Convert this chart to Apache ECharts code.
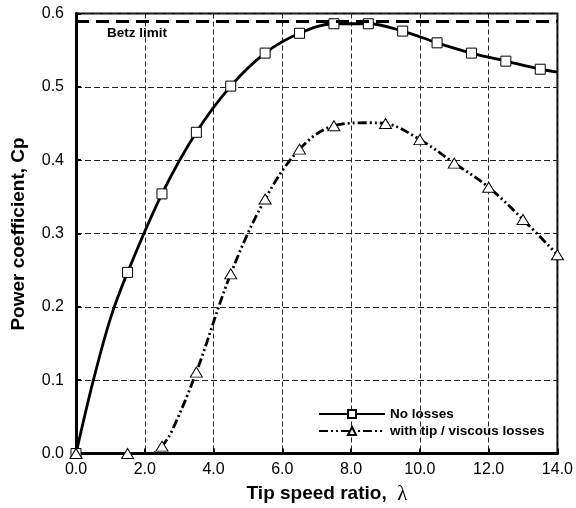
<!DOCTYPE html>
<html>
<head>
<meta charset="utf-8">
<script src="https://cdn.jsdelivr.net/npm/echarts@6/dist/echarts.min.js"></script>
<style>html,body{margin:0;padding:0;background:#fff;}#c{width:576px;height:508px;}</style>
</head>
<body>
<div id="c"></div>
<script>
// Tick labels
var xTicks = ['0.0','2.0','4.0','6.0','8.0','10.0','12.0','14.0'];
var yTicks = ['0.0','0.1','0.2','0.3','0.4','0.5','0.6'];

// No losses: marker points
var xNoLoss  = [0, 1.5, 2.5, 3.5, 4.5, 5.5, 6.5, 7.5, 8.5, 9.5, 10.5, 11.5, 12.5, 13.5];
var cpNoLoss = [0, 0.247, 0.354, 0.438, 0.501, 0.546, 0.573, 0.586, 0.586, 0.576, 0.560, 0.546, 0.535, 0.524];
// No losses: extra curve points (no marker)
var xNoLossCurve  = [0.5, 1.0, 14.0];
var cpNoLossCurve = [0.099, 0.184, 0.520];

// With tip / viscous losses: marker points
var xLoss  = [0, 1.5, 2.5, 3.5, 4.5, 5.5, 6.5, 7.5, 9.0, 10.0, 11.0, 12.0, 13.0, 14.0];
var cpLoss = [0, 0, 0.010, 0.111, 0.245, 0.347, 0.415, 0.447, 0.450, 0.428, 0.396, 0.363, 0.319, 0.271];
// With losses: extra curve points (no marker)
var xLossCurve  = [2.2, 2.8, 8.5];
var cpLossCurve = [0.0, 0.032, 0.451];

var betz = 0.594;
var seriesNames = ['No losses', 'with tip / viscous losses'];

function build(xs, ys, xc, yc) {
  var pts = [];
  xs.forEach(function (x, i) { pts.push({ value: [x, ys[i]] }); });
  xc.forEach(function (x, i) { pts.push({ value: [x, yc[i]], symbol: 'none' }); });
  pts.sort(function (a, b) { return a.value[0] - b.value[0]; });
  return pts;
}

var chart = echarts.init(document.getElementById('c'), null, { renderer: 'canvas' });
var font = 'Liberation Sans, Arial, sans-serif';

chart.setOption({
  animation: false,
  backgroundColor: '#fff',
  grid: { left: 76, right: 17, top: 13.5, bottom: 54.5, show: true, borderColor: '#000', borderWidth: 2, backgroundColor: 'transparent' },
  xAxis: {
    type: 'value', min: 0, max: 14, interval: 2,
    axisLine: { show: true, onZero: false, lineStyle: { color: '#000', width: 3 } },
    axisTick: { show: true, inside: true, length: 5, lineStyle: { color: '#000', width: 2 } },
    axisLabel: { color: '#000', fontSize: 16, fontFamily: font, margin: 8,
      formatter: function (v) { return xTicks[Math.round(v / 2)]; } },
    splitLine: { show: true, lineStyle: { color: '#222', width: 1, type: [5, 3] } }
  },
  yAxis: {
    type: 'value', min: 0, max: 0.6, interval: 0.1,
    axisLine: { show: true, lineStyle: { color: '#000', width: 3 } },
    axisTick: { show: true, inside: true, length: 5, lineStyle: { color: '#000', width: 2 } },
    axisLabel: { color: '#000', fontSize: 16, fontFamily: font, margin: 12,
      formatter: function (v) { return yTicks[Math.round(v * 10)]; } },
    splitLine: { show: true, lineStyle: { color: '#222', width: 1, type: [6, 3] } }
  },
  legend: {
    data: seriesNames,
    orient: 'vertical',
    left: 313, top: 402,
    itemWidth: 66, itemHeight: 10, itemGap: 3,
    textStyle: { color: '#000', fontSize: 13.5, fontWeight: 'bold', fontFamily: font, lineHeight: 14 },
    selectedMode: false
  },
  series: [
    {
      name: seriesNames[0], type: 'line', smooth: 0.35,
      data: build(xNoLoss, cpNoLoss, xNoLossCurve, cpNoLossCurve),
      symbol: 'rect', symbolSize: 10,
      itemStyle: { color: '#fff', borderColor: '#000', borderWidth: 1 },
      lineStyle: { color: '#000', width: 2.8 },
      z: 3,
      markLine: {
        silent: true, symbol: 'none', label: { show: false },
        lineStyle: { color: '#000', width: 3, type: [13, 7] },
        data: [{ yAxis: betz }]
      }
    },
    {
      name: seriesNames[1], type: 'line', smooth: 0.35,
      data: build(xLoss, cpLoss, xLossCurve, cpLossCurve),
      symbol: 'triangle', symbolSize: [12, 10],
      itemStyle: { color: '#fff', borderColor: '#000', borderWidth: 1 },
      lineStyle: { color: '#000', width: 2.8, type: [9, 3, 2, 3, 2, 3] },
      z: 3
    }
  ],
  graphic: [
    { type: 'text', left: 107, top: 26, silent: true,
      style: { text: 'Betz limit', fill: '#000', font: 'bold 13.5px ' + font } },
    { type: 'text', x: 327, y: 494, silent: true,
      style: { text: '{a|Tip speed ratio,  }{b|λ}', textAlign: 'center', textVerticalAlign: 'middle',
        rich: { a: { fontSize: 19, fontWeight: 'bold', fontFamily: font, fill: '#000' },
                b: { fontSize: 21, fontFamily: 'Liberation Serif, serif', fill: '#000' } } } },
    { type: 'text', x: 19, y: 234, rotation: Math.PI / 2, silent: true,
      style: { text: 'Power coefficient, Cp', textAlign: 'center', textVerticalAlign: 'middle',
        fill: '#000', font: 'bold 19px ' + font } }
  ]
});
</script>
</body>
</html>
